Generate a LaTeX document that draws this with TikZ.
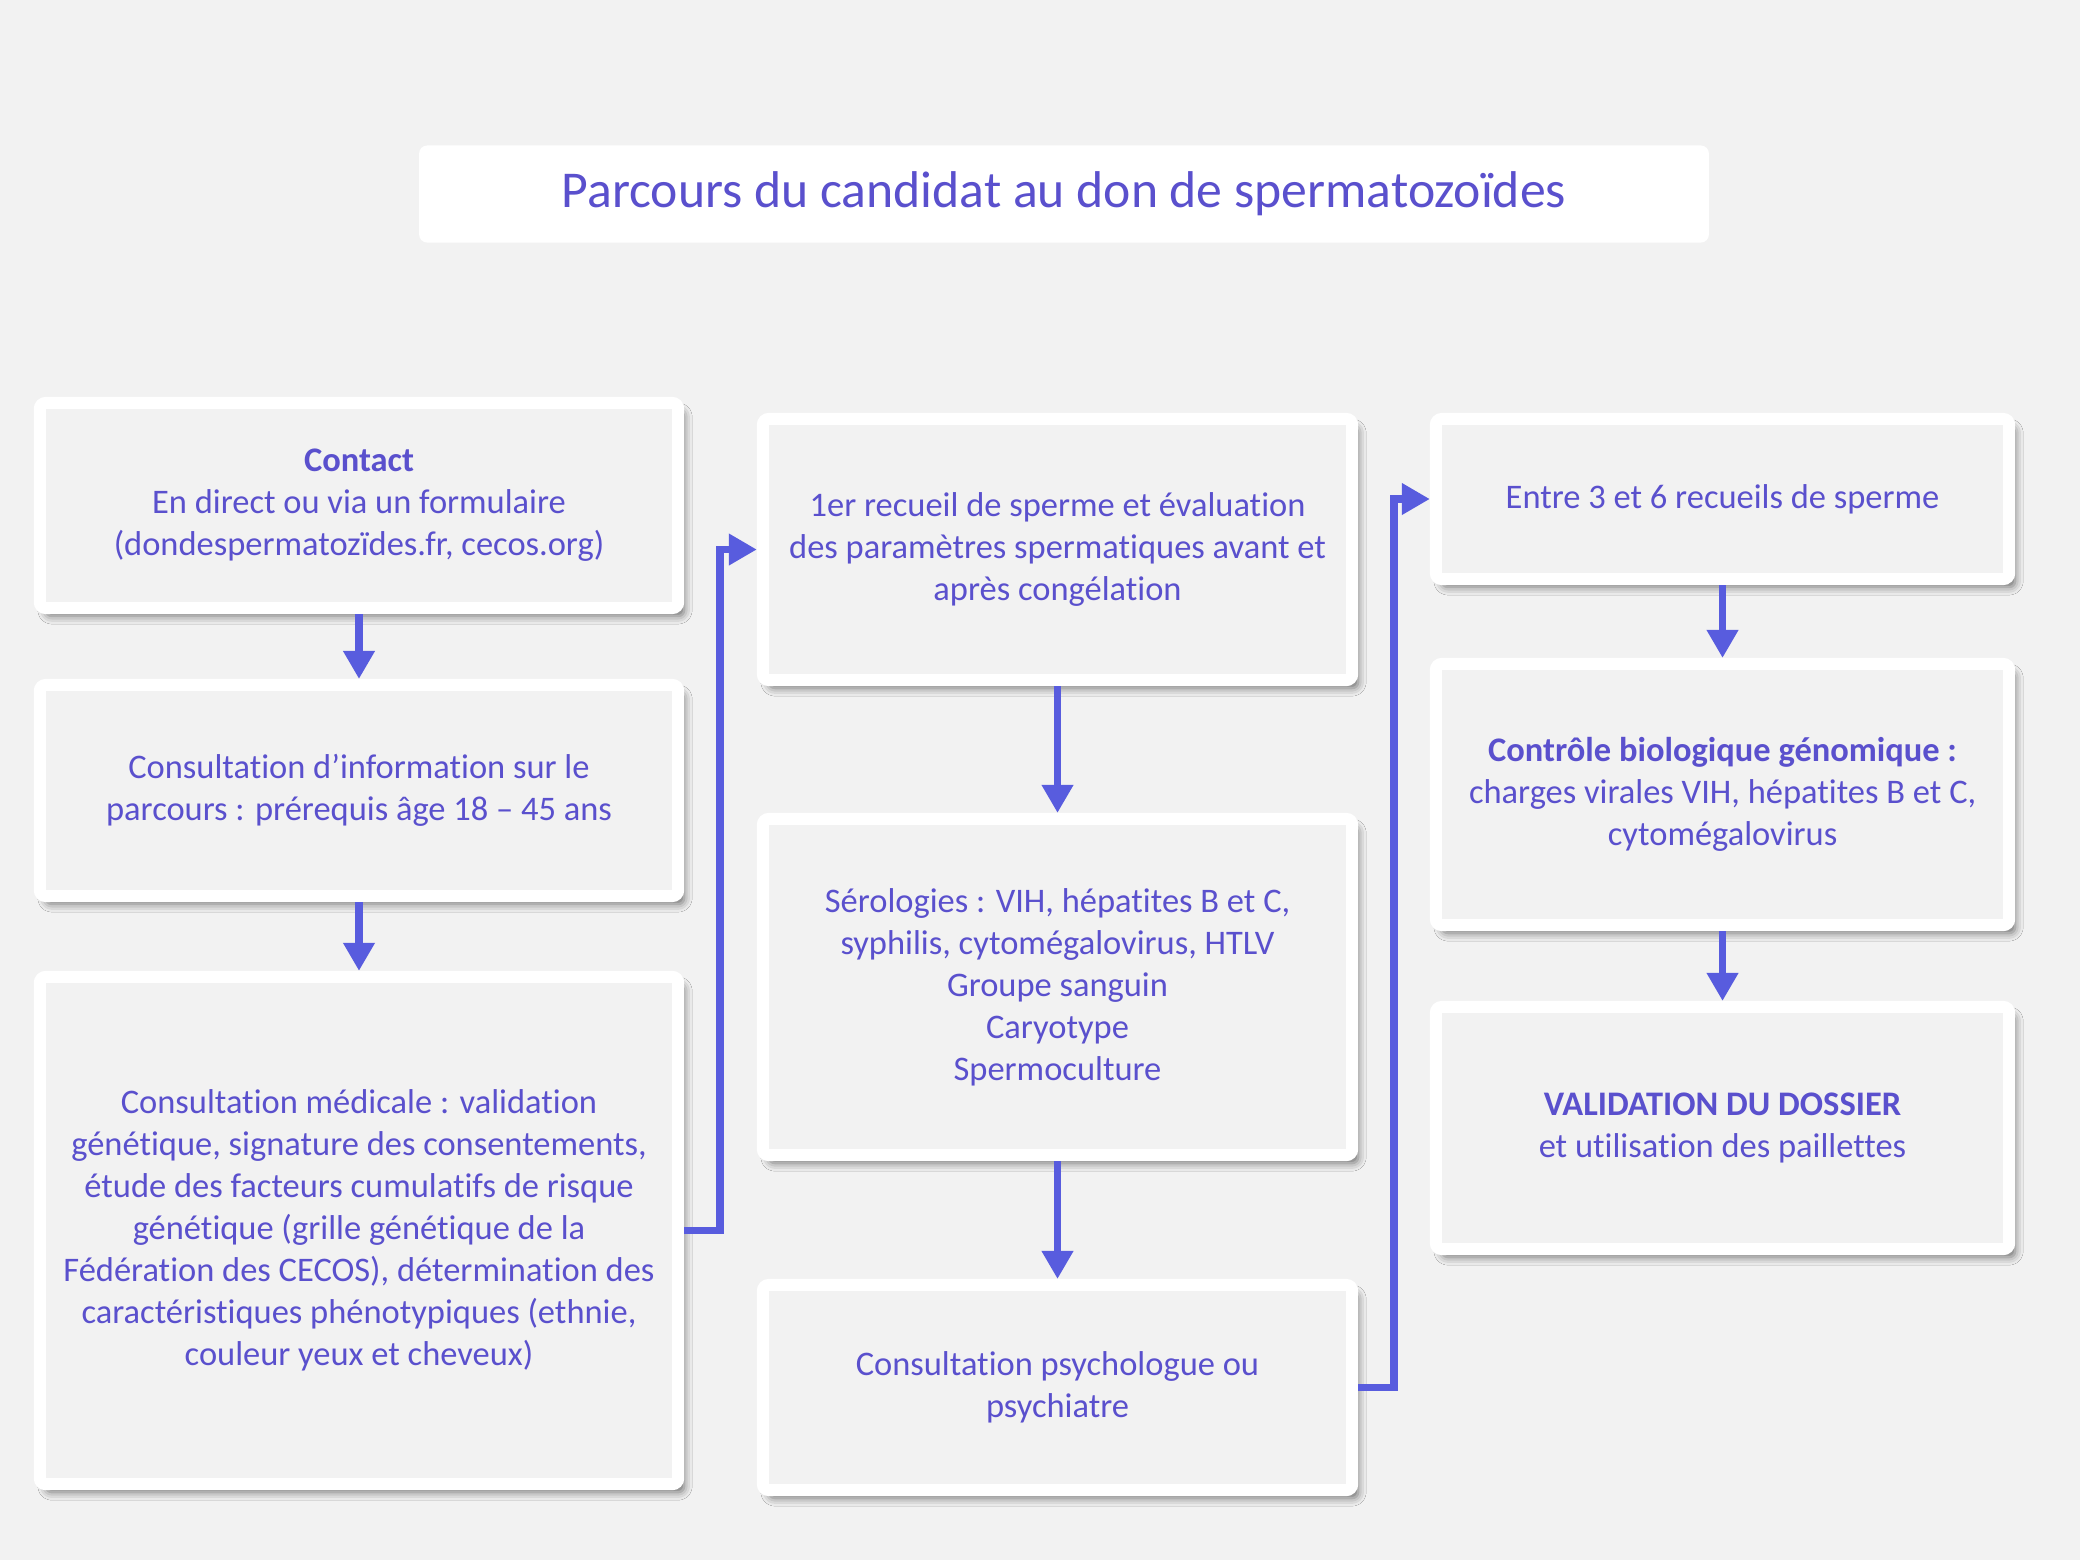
\documentclass[tikz,border=0pt]{standalone}
\usepackage{fontspec}
\setmainfont{Carlito}[Ligatures=NoCommon]
\usetikzlibrary{arrows.meta,positioning,shadows.blur}
\definecolor{bggray}{RGB}{242,242,242}
\definecolor{txtpurple}{RGB}{90,80,205}
\definecolor{flowblue}{RGB}{88,92,222}

\begin{document}
\begin{tikzpicture}[x=0.01cm,y=-0.01cm,>={Triangle[length=2.8mm,width=3mm]},
  box/.style={draw=white,line width=1.2mm,fill=bggray,rounded corners=0.6mm,align=center,
    text=txtpurple,inner sep=0pt,font=\fontsize{9.8}{11.95}\selectfont,
    blur shadow={shadow xshift=0.6mm,shadow yshift=-0.8mm,shadow blur radius=0.8mm,shadow opacity=55}},
  lcol/.style={box,minimum width=63.8mm},
  mcol/.style={box,minimum width=58.9mm},
  rcol/.style={box,minimum width=57.3mm},
  flow/.style={->,draw=flowblue,line width=0.75mm}]
\fill[bggray] (0,0) rectangle (2080,1560);
\useasboundingbox (0,0) rectangle (2080,1560);
\node[fill=white,rounded corners=0.8mm,minimum width=12.89cm,minimum height=0.97cm,
  text=txtpurple,font=\fontsize{14.7}{17}\selectfont] (title) at (1064,194)
  {Parcours du candidat au don de spermatozoïdes};
\node[lcol,minimum height=20.5mm] (b1) at (359,505.5)
  {\textbf{Contact}\\En direct ou via un formulaire\\(dondespermatozïdes.fr, cecos.org)};
\node[lcol,minimum height=21.1mm] (b2) at (359,790.5)
  {Consultation d’information sur le\\parcours : prérequis âge 18 – 45 ans};
\node[lcol,minimum height=50.7mm] (b3) at (359,1230.5)
  {Consultation médicale : validation\\génétique, signature des consentements,\\étude des facteurs cumulatifs de risque\\génétique (grille génétique de la\\Fédération des CECOS), détermination des\\caractéristiques phénotypiques (ethnie,\\couleur yeux et cheveux)};
\node[mcol,minimum height=26.1mm] (b4) at (1057.5,549.5)
  {1er recueil de sperme et évaluation\\des paramètres spermatiques avant et\\après congélation};
\node[mcol,minimum height=33.6mm] (b5) at (1057.5,987)
  {Sérologies : VIH, hépatites B et C,\\syphilis, cytomégalovirus, HTLV\\Groupe sanguin\\Caryotype\\Spermoculture};
\node[mcol,minimum height=20.5mm] (b6) at (1057.5,1387.5)
  {Consultation psychologue ou\\psychiatre};
\node[rcol,minimum height=16mm] (b7) at (1722.5,499)
  {Entre 3 et 6 recueils de sperme};
\node[rcol,minimum height=26.1mm] (b8) at (1722.5,794.5)
  {\textbf{Contrôle biologique génomique :}\\charges virales VIH, hépatites B et C,\\cytomégalovirus};
\node[rcol,minimum height=24.2mm] (b9) at (1722.5,1128)
  {\textbf{VALIDATION DU DOSSIER}\\et utilisation des paillettes};
\foreach \a/\b in {b1/b2,b2/b3,b4/b5,b5/b6,b7/b8,b8/b9}
  \draw[flow] (\a) -- (\b);
\draw[flow] (b3.east) -- ++(36,0) |- (b4.west);
\draw[flow] (b6.east) -- ++(36,0) |- (b7.west);
\end{tikzpicture}
\end{document}
